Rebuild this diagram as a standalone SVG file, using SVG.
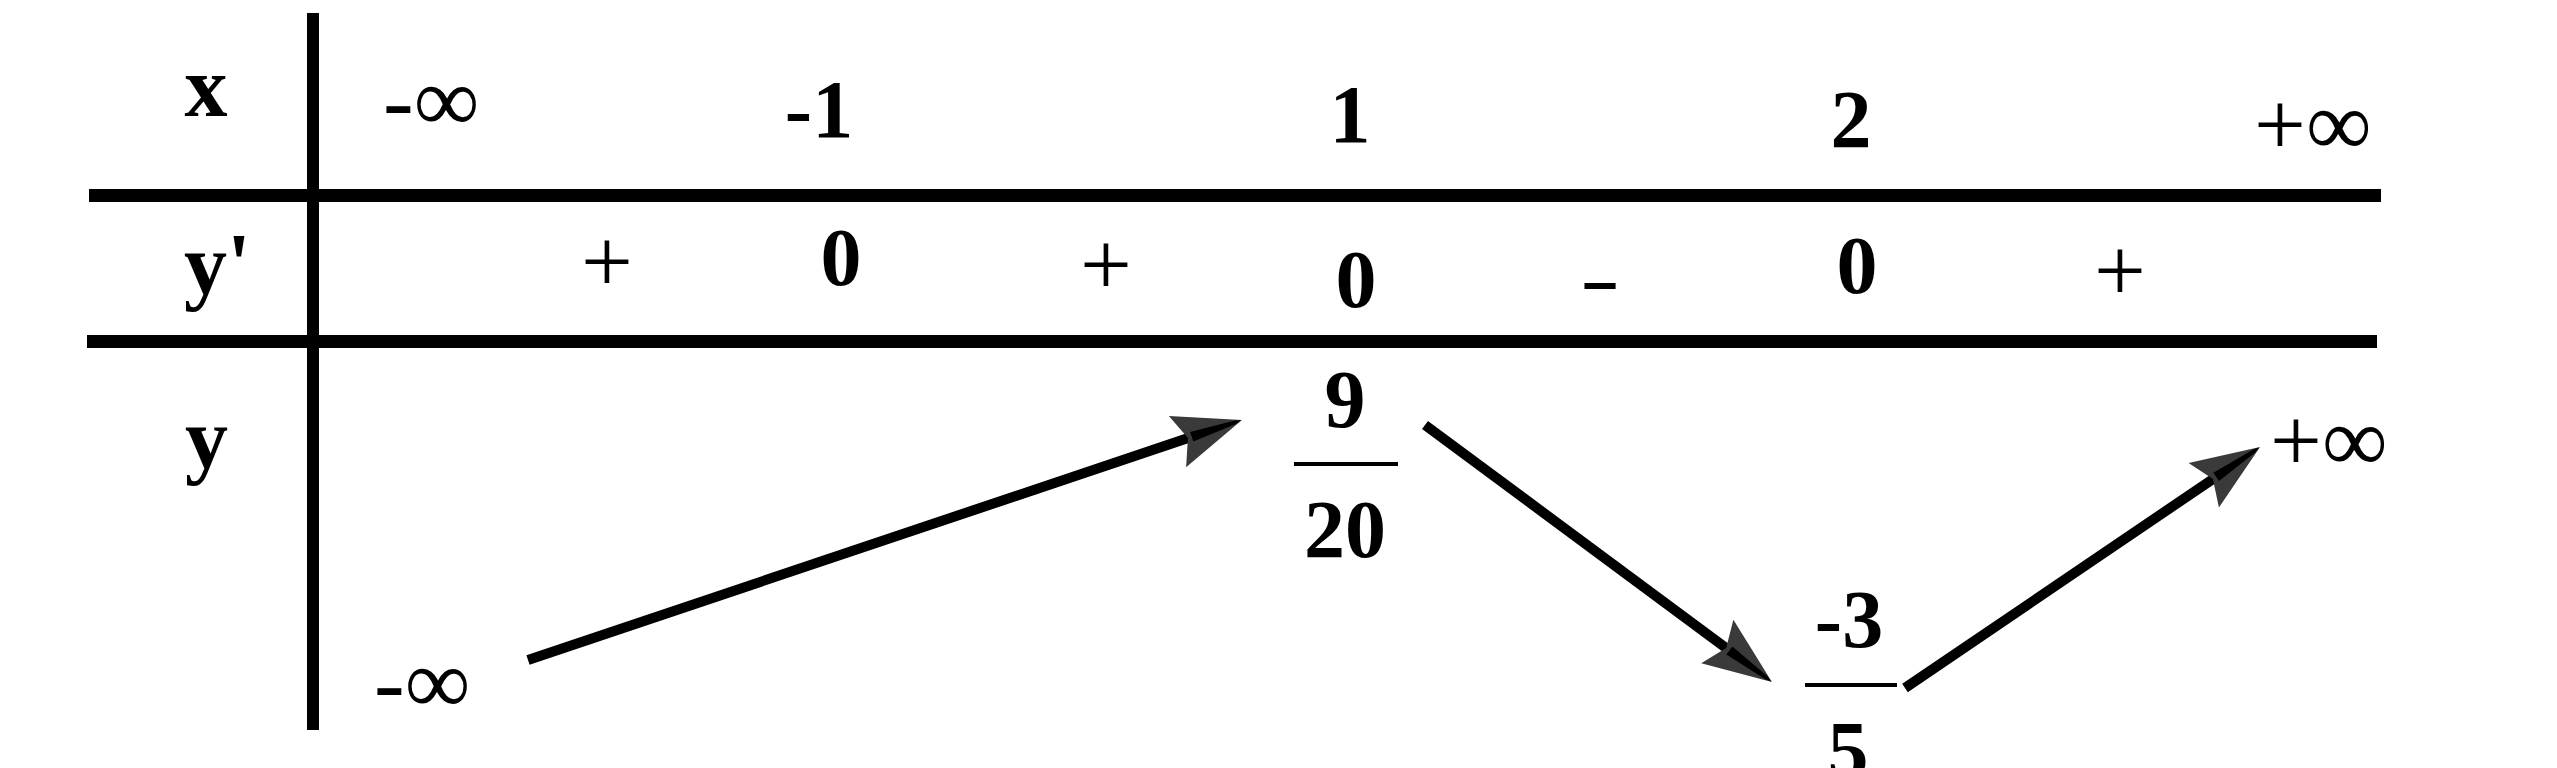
<svg xmlns="http://www.w3.org/2000/svg" width="2557" height="768" viewBox="0 0 2557 768">
<style>
.b{font-family:"Liberation Serif","Times New Roman",serif;font-weight:bold;font-size:82px;fill:#000;text-anchor:middle}
.lb{font-family:"Liberation Serif","Times New Roman",serif;font-weight:bold;font-size:86px;fill:#000}
.r{font-family:"Liberation Serif","Times New Roman",serif;font-weight:normal;font-size:92px;fill:#000}
.rm{font-family:"Liberation Serif","Times New Roman",serif;font-weight:normal;font-size:92px;fill:#000;text-anchor:middle}
.rule{fill:#000}
.arr{stroke:#000;stroke-width:10;fill:none;marker-end:url(#ah)}
</style>
<defs>
<marker id="ah" markerUnits="userSpaceOnUse" viewBox="-30 -30 80 60" markerWidth="80" markerHeight="60" refX="0" refY="0" orient="auto" overflow="visible">
<path d="M45,0 L-23,-27 L-12,0 L-23,27 Z" fill="#3a3a3a"/>
<path d="M-8,-5 L38,-1.8 L44,0 L38,1.8 L-8,5 Z" fill="#000"/>
</marker>
</defs>
<rect width="2557" height="768" fill="#fff"/>
<g id="table">
<rect class="rule" x="307" y="13" width="12" height="717"/>
<rect class="rule" x="89" y="189" width="2292" height="13"/>
<rect class="rule" x="87" y="335" width="2290" height="13"/>
</g>
<g id="row-x">
<text class="lb" x="206" y="116" text-anchor="middle">x</text>
<text class="r" x="383" y="131">-∞</text>
<text class="b" x="819" y="137">-1</text>
<text class="b" x="1350" y="142">1</text>
<text class="b" x="1851" y="147">2</text>
<text class="r" x="2254" y="155">+∞</text>
</g>
<g id="row-yprime">
<text class="lb" x="184" y="293">y'</text>
<text class="rm" x="607" y="292">+</text>
<text class="b" x="841" y="285">0</text>
<text class="rm" x="1106" y="295">+</text>
<text class="b" x="1356" y="307">0</text>
<text class="rm" transform="translate(1600,305) scale(1.5,1)" x="0" y="0" style="font-size:80px">-</text>
<text class="b" x="1857" y="293">0</text>
<text class="rm" x="2120" y="301">+</text>
</g>
<g id="row-y">
<text class="lb" x="185" y="467">y</text>
<g id="minus-inf"><text class="r" x="374" y="713">-∞</text></g>
<g id="max-value">
<text class="b" x="1345" y="427">9</text>
<rect class="rule" x="1294" y="462" width="104" height="4"/>
<text class="b" x="1345" y="557">20</text>
</g>
<g id="min-value">
<text class="b" x="1849" y="647">-3</text>
<rect class="rule" x="1805" y="683" width="92" height="4"/>
<text class="b" x="1848" y="778">5</text>
</g>
<g id="plus-inf"><text class="r" x="2270" y="471">+∞</text></g>
</g>
<g id="connectors">
<path class="arr" d="M528,660 L1199.3,434.3"/>
<path class="arr" d="M1425,425 L1735.8,655.2"/>
<path class="arr" d="M1905,688 L2222.8,472.3"/>
</g>
</svg>
